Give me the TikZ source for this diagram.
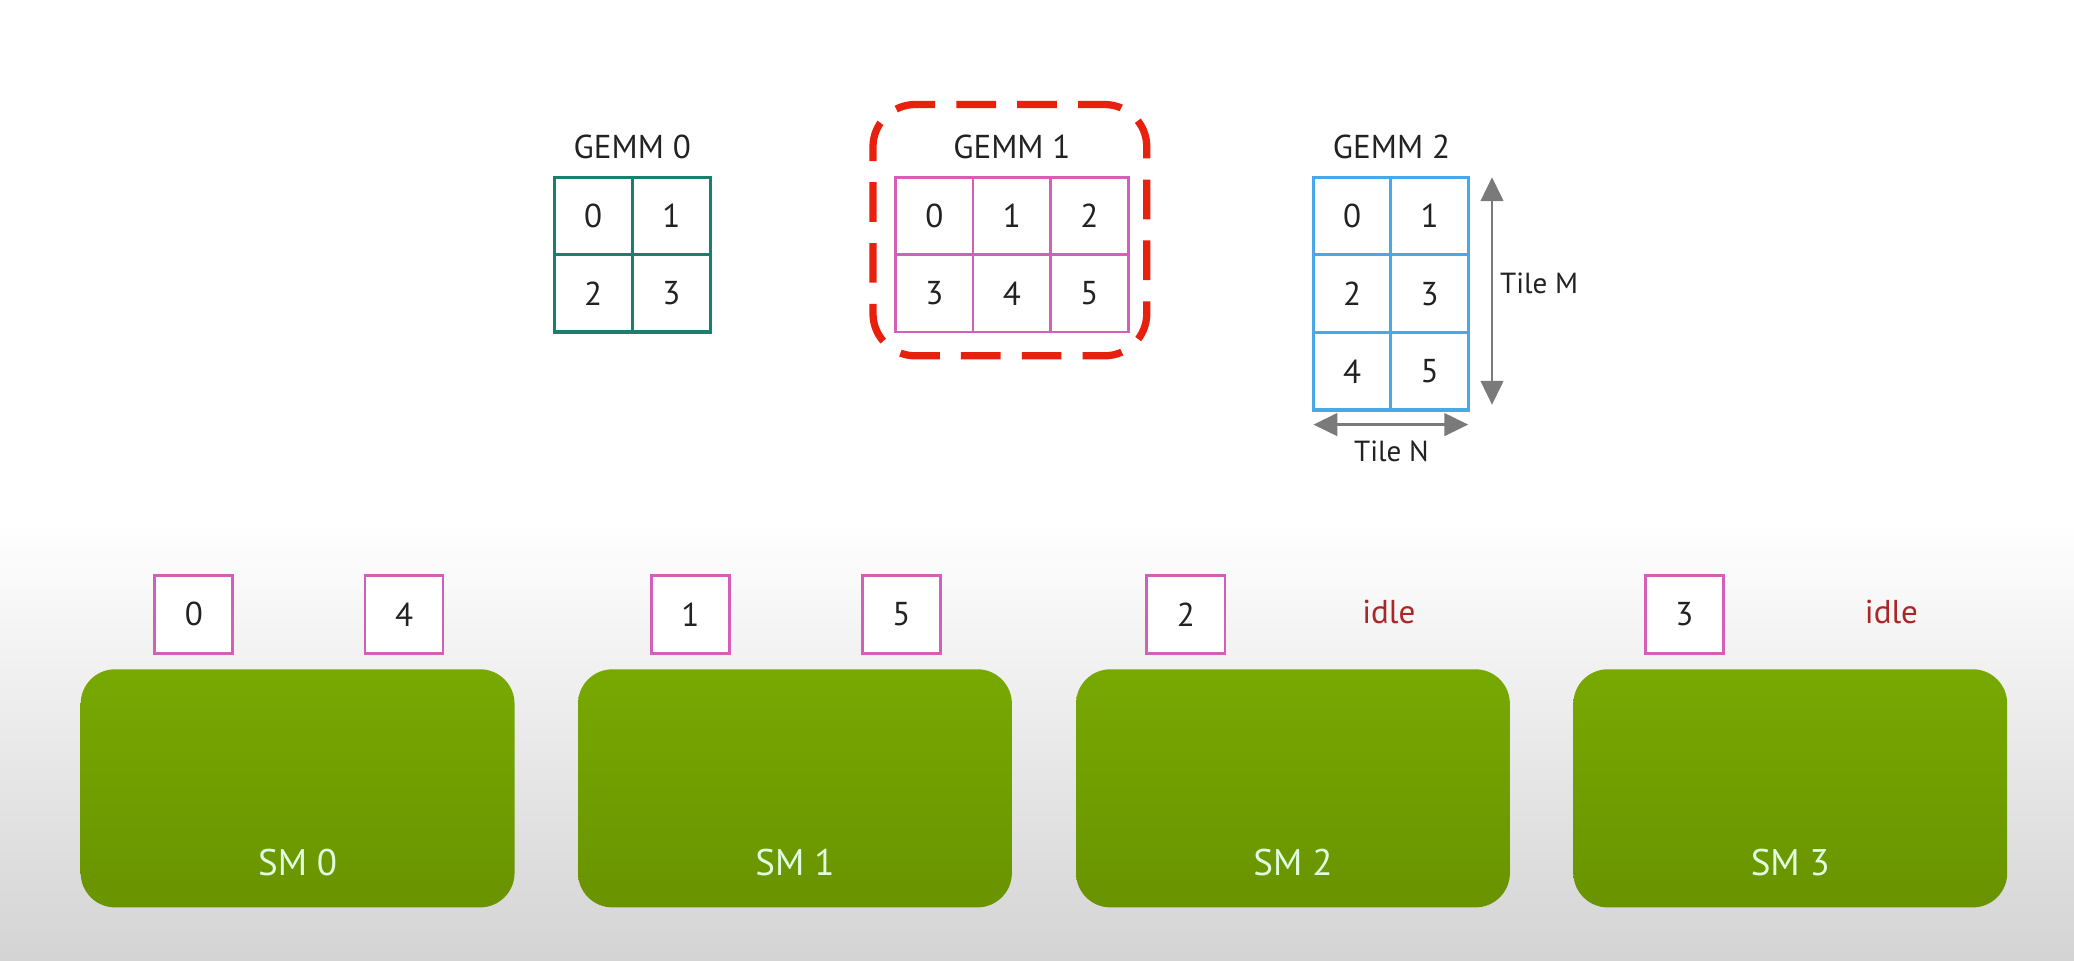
\documentclass[tikz,border=0pt]{standalone}
\usepackage{fontspec}
\setmainfont{PT Sans}
\usetikzlibrary{arrows.meta}
\definecolor{tealc}{HTML}{1A7F6E}
\definecolor{pinkc}{HTML}{D45FB8}
\definecolor{bluec}{HTML}{4AA8E8}
\definecolor{redc}{HTML}{E8200E}
\definecolor{idlec}{HTML}{A82828}
\definecolor{greentop}{HTML}{78A902}
\definecolor{greenbot}{HTML}{699300}
\definecolor{txt}{HTML}{222222}
\definecolor{arrowc}{HTML}{7A7A7A}
\tikzset{
  cellbase/.style={draw, fill=white, text=txt, inner sep=0pt, font=\fontsize{25}{25}\selectfont},
  cellteal/.style={cellbase, draw=tealc, line width=2.4pt, minimum width=59pt, minimum height=58.5pt},
  cellpink/.style={cellbase, draw=pinkc, line width=2pt, minimum width=58.67pt, minimum height=58.5pt},
  cellblue/.style={cellbase, draw=bluec, line width=2.4pt, minimum width=58.5pt, minimum height=58.67pt},
  taskbox/.style={cellbase, draw=pinkc, line width=2pt, minimum width=59pt, minimum height=59pt},
  gemmlabel/.style={text=txt, font=\fontsize{25}{25}\selectfont, inner sep=0pt},
  dimlabel/.style={text=txt, font=\fontsize{22}{22}\selectfont, inner sep=0pt},
  idlelabel/.style={text=idlec, font=\fontsize{25}{25}\selectfont, inner sep=0pt},
  smbox/.style={rounded corners=26pt, top color=greentop, bottom color=greenbot, draw=none,
    minimum width=328pt, minimum height=180pt, inner sep=0pt},
  smlabel/.style={text=white!88!green, font=\fontsize{28}{28}\selectfont, inner sep=0pt},
  hilite/.style={draw=redc, line width=5.5pt, dash pattern=on 30pt off 16pt, dash phase=10pt,
    rounded corners=32pt, minimum width=207pt, minimum height=190pt, inner sep=0pt},
  dimarrow/.style={draw=arrowc, line width=2pt, {Triangle[length=18pt,width=17pt]}-{Triangle[length=18pt,width=17pt]}}
}
\begin{document}
\begin{tikzpicture}[x=1pt,y=-1pt]
\useasboundingbox (0,0) rectangle (1568,726);
\fill[white] (0,0) rectangle (1568,726);
\shade[top color=white, bottom color=black!17] (0,395) rectangle (1568,726);

% highlight around GEMM 1
\node[hilite] (hl) at (763.5,174) {};

% GEMM 0
\node[gemmlabel] (lab0) at (478,111) {GEMM 0};
\node[cellteal] (a0) at (448.5,163.25) {0};
\node[cellteal] (a1) at (507.5,163.25) {1};
\node[cellteal] (a2) at (448.5,221.75) {2};
\node[cellteal] (a3) at (507.5,221.75) {3};

% GEMM 1
\node[gemmlabel] (lab1) at (765,111) {GEMM 1};
\node[cellpink] (b0) at (706.33,163.25) {0};
\node[cellpink] (b1) at (765,163.25) {1};
\node[cellpink] (b2) at (823.67,163.25) {2};
\node[cellpink] (b3) at (706.33,221.75) {3};
\node[cellpink] (b4) at (765,221.75) {4};
\node[cellpink] (b5) at (823.67,221.75) {5};

% GEMM 2
\node[gemmlabel] (lab2) at (1052,111) {GEMM 2};
\node[cellblue] (c0) at (1022.25,163.33) {0};
\node[cellblue] (c1) at (1080.75,163.33) {1};
\node[cellblue] (c2) at (1022.25,222) {2};
\node[cellblue] (c3) at (1080.75,222) {3};
\node[cellblue] (c4) at (1022.25,280.67) {4};
\node[cellblue] (c5) at (1080.75,280.67) {5};

% dimension arrows
\coordinate (mtop) at (1128,134);
\coordinate (mbot) at (1128,306);
\coordinate (nleft) at (993,321);
\coordinate (nright) at (1110,321);
\draw[dimarrow] (mtop) -- (mbot);
\draw[dimarrow] (nleft) -- (nright);
\node[dimlabel, anchor=west] (tm) at (1134,214) {Tile M};
\node[dimlabel] (tn) at (1052,341) {Tile N};

% SMs
\node[smbox] (sm0) at (225,596) {};
\node[smbox] (sm1) at (601,596) {};
\node[smbox] (sm2) at (977.5,596) {};
\node[smbox] (sm3) at (1353.5,596) {};
\node[smlabel] at (225,652) {SM 0};
\node[smlabel] at (601,652) {SM 1};
\node[smlabel] at (977.5,652) {SM 2};
\node[smlabel] at (1353.5,652) {SM 3};

% tasks
\node[taskbox] (t0) at (146.5,464.5) {0};
\node[taskbox] (t4) at (305.5,464.5) {4};
\node[taskbox] (t1) at (522,464.5) {1};
\node[taskbox] (t5) at (681.5,464.5) {5};
\node[taskbox] (t2) at (896.5,464.5) {2};
\node[idlelabel] (i2) at (1050,463) {idle};
\node[taskbox] (t3) at (1273.5,464.5) {3};
\node[idlelabel] (i3) at (1430,463) {idle};
\end{tikzpicture}
\end{document}
